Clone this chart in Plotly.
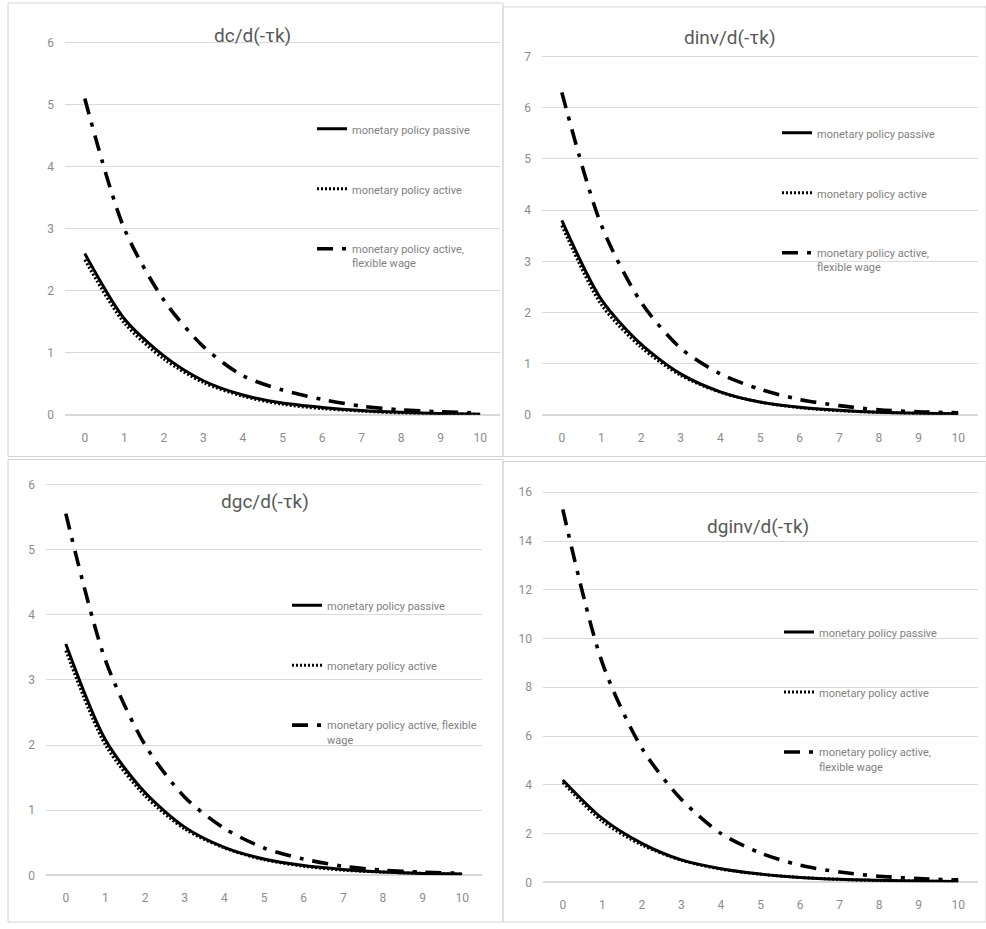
import plotly.graph_objects as go

# Periods after the capital-tax cut
periods = [0, 1, 2, 3, 4, 5, 6, 7, 8, 9, 10]

# Responses of consumption
dc_passive = [2.60, 1.55, 0.95, 0.55, 0.32, 0.19, 0.12, 0.07, 0.04, 0.02, 0.01]
dc_active = [2.50, 1.48, 0.90, 0.52, 0.30, 0.17, 0.10, 0.06, 0.03, 0.02, 0.01]
dc_flex = [5.10, 3.00, 1.85, 1.10, 0.63, 0.40, 0.25, 0.14, 0.08, 0.05, 0.03]

# Responses of investment
dinv_passive = [3.80, 2.25, 1.38, 0.80, 0.45, 0.25, 0.15, 0.09, 0.05, 0.03, 0.02]
dinv_active = [3.70, 2.15, 1.32, 0.77, 0.44, 0.25, 0.14, 0.08, 0.05, 0.03, 0.02]
dinv_flex = [6.30, 3.70, 2.20, 1.30, 0.80, 0.50, 0.30, 0.18, 0.10, 0.06, 0.04]

# Responses of government consumption
dgc_passive = [3.55, 2.08, 1.27, 0.74, 0.43, 0.25, 0.15, 0.09, 0.05, 0.03, 0.02]
dgc_active = [3.45, 2.00, 1.22, 0.71, 0.42, 0.24, 0.14, 0.08, 0.05, 0.03, 0.02]
dgc_flex = [5.55, 3.30, 2.00, 1.20, 0.72, 0.42, 0.25, 0.14, 0.08, 0.05, 0.03]

# Responses of government investment
dginv_passive = [4.20, 2.62, 1.60, 0.92, 0.56, 0.34, 0.20, 0.12, 0.08, 0.05, 0.03]
dginv_active = [4.10, 2.50, 1.53, 0.90, 0.54, 0.33, 0.20, 0.12, 0.07, 0.05, 0.03]
dginv_flex = [15.3, 9.00, 5.50, 3.40, 2.00, 1.20, 0.70, 0.42, 0.25, 0.15, 0.10]

titles = ["dc/d(-τk)", "dinv/d(-τk)", "dgc/d(-τk)", "dginv/d(-τk)"]
name_passive = "monetary policy passive"
name_active = "monetary policy active"
flex_names = [
    "monetary policy active,<br>flexible wage",
    "monetary policy active,<br>flexible wage",
    "monetary policy active, flexible<br>wage",
    "monetary policy active,<br>flexible wage",
]

W, H = 986, 929
FONT = "Roboto, Liberation Sans, sans-serif"
GRID = "#d9d9d9"
TOP_PAD = 0.02  # headroom so the top gridline is kept


def px_x(v):
    return v / W


def px_y(v):
    return 1 - v / H


# Panel geometry in pixels: plot-area box, y range/dtick, title position, legend position
panels = [
    dict(x=(65, 500), y=(43, 418), yr=(0, 6), dt=1, title=(252, 36), leg=(312, 116),
         data=(dc_passive, dc_active, dc_flex)),
    dict(x=(542, 978), y=(57, 418), yr=(0, 7), dt=1, title=(730, 38), leg=(777, 120),
         data=(dinv_passive, dinv_active, dinv_flex)),
    dict(x=(46, 482), y=(488, 882), yr=(0, 6), dt=1, title=(265, 505), leg=(287, 596),
         data=(dgc_passive, dgc_active, dgc_flex)),
    dict(x=(543, 978), y=(496, 889), yr=(0, 16), dt=2, title=(758, 531), leg=(779, 623),
         data=(dginv_passive, dginv_active, dginv_flex)),
]

fig = go.Figure()
layout_axes = {}
annotations = []
legends = {}

for i, p in enumerate(panels):
    k = "" if i == 0 else str(i + 1)
    xa, ya = "x" + k, "y" + k
    leg = "legend" + k
    passive, active, flex = p["data"]

    fig.add_trace(go.Scatter(
        x=periods, y=active, mode="lines", name=name_active, xaxis=xa, yaxis=ya,
        line=dict(color="black", width=3, dash="2px,2px", shape="spline", smoothing=0.8),
        legend=leg, legendgroup="b" + k, legendrank=2))
    fig.add_trace(go.Scatter(
        x=periods, y=passive, mode="lines", name=name_passive, xaxis=xa, yaxis=ya,
        line=dict(color="black", width=3, shape="spline", smoothing=0.8),
        legend=leg, legendgroup="a" + k, legendrank=1))
    fig.add_trace(go.Scatter(
        x=periods, y=flex, mode="lines", name=flex_names[i], xaxis=xa, yaxis=ya,
        line=dict(color="black", width=3.6, dash="16px,9px,4px,9px", shape="spline", smoothing=0.8),
        legend=leg, legendgroup="c" + k, legendrank=3))

    y_lo, y_hi = p["yr"]
    top_px = p["y"][0] - TOP_PAD * (p["y"][1] - p["y"][0])

    axis_common = dict(showline=False, ticks="",
                       tickfont=dict(family=FONT, size=12, color="#8c8c8c"))
    layout_axes["xaxis" + k] = dict(
        axis_common, domain=[px_x(p["x"][0]), px_x(p["x"][1])], range=[-0.5, 10.5],
        tickmode="array", tickvals=periods, ticktext=[str(v) for v in periods],
        showgrid=False, zeroline=False, anchor=ya, ticklabelstandoff=14)
    layout_axes["yaxis" + k] = dict(
        axis_common, domain=[px_y(p["y"][1]), px_y(top_px)],
        range=[y_lo, y_hi * (1 + TOP_PAD)],
        tick0=0, dtick=p["dt"], showgrid=True, gridcolor=GRID, gridwidth=1,
        zeroline=True, zerolinecolor=GRID, zerolinewidth=1.5, anchor=xa,
        ticklabelstandoff=10)

    annotations.append(dict(
        text=titles[i], x=px_x(p["title"][0]), y=px_y(p["title"][1]),
        xref="paper", yref="paper", xanchor="center", yanchor="middle",
        showarrow=False, font=dict(family=FONT, size=19, color="#595959")))

    legends[leg] = dict(
        x=px_x(p["leg"][0]), y=px_y(p["leg"][1]), xanchor="left", yanchor="top",
        bgcolor="rgba(0,0,0,0)", borderwidth=0, tracegroupgap=41, valign="top",
        font=dict(family=FONT, size=11, color="#7f7f7f"), itemwidth=30)

# Light frames around the four chart panels
frames = [(8, 3, 503, 460), (503, 7, 986, 460), (8, 463, 503, 929), (503, 465, 986, 929)]
shapes = []
for x0, y0, x1, y1 in frames:
    shapes.append(dict(type="rect", xref="paper", yref="paper",
                       x0=px_x(x0), x1=px_x(x1), y0=px_y(y1), y1=px_y(y0),
                       line=dict(color="#d4d4d4", width=1), fillcolor="rgba(0,0,0,0)",
                       layer="below"))

fig.update_layout(
    width=W, height=H, margin=dict(l=0, r=0, t=0, b=0),
    paper_bgcolor="white", plot_bgcolor="rgba(0,0,0,0)",
    showlegend=True, annotations=annotations, shapes=shapes,
    **layout_axes, **legends)

fig.write_html("out.html")
